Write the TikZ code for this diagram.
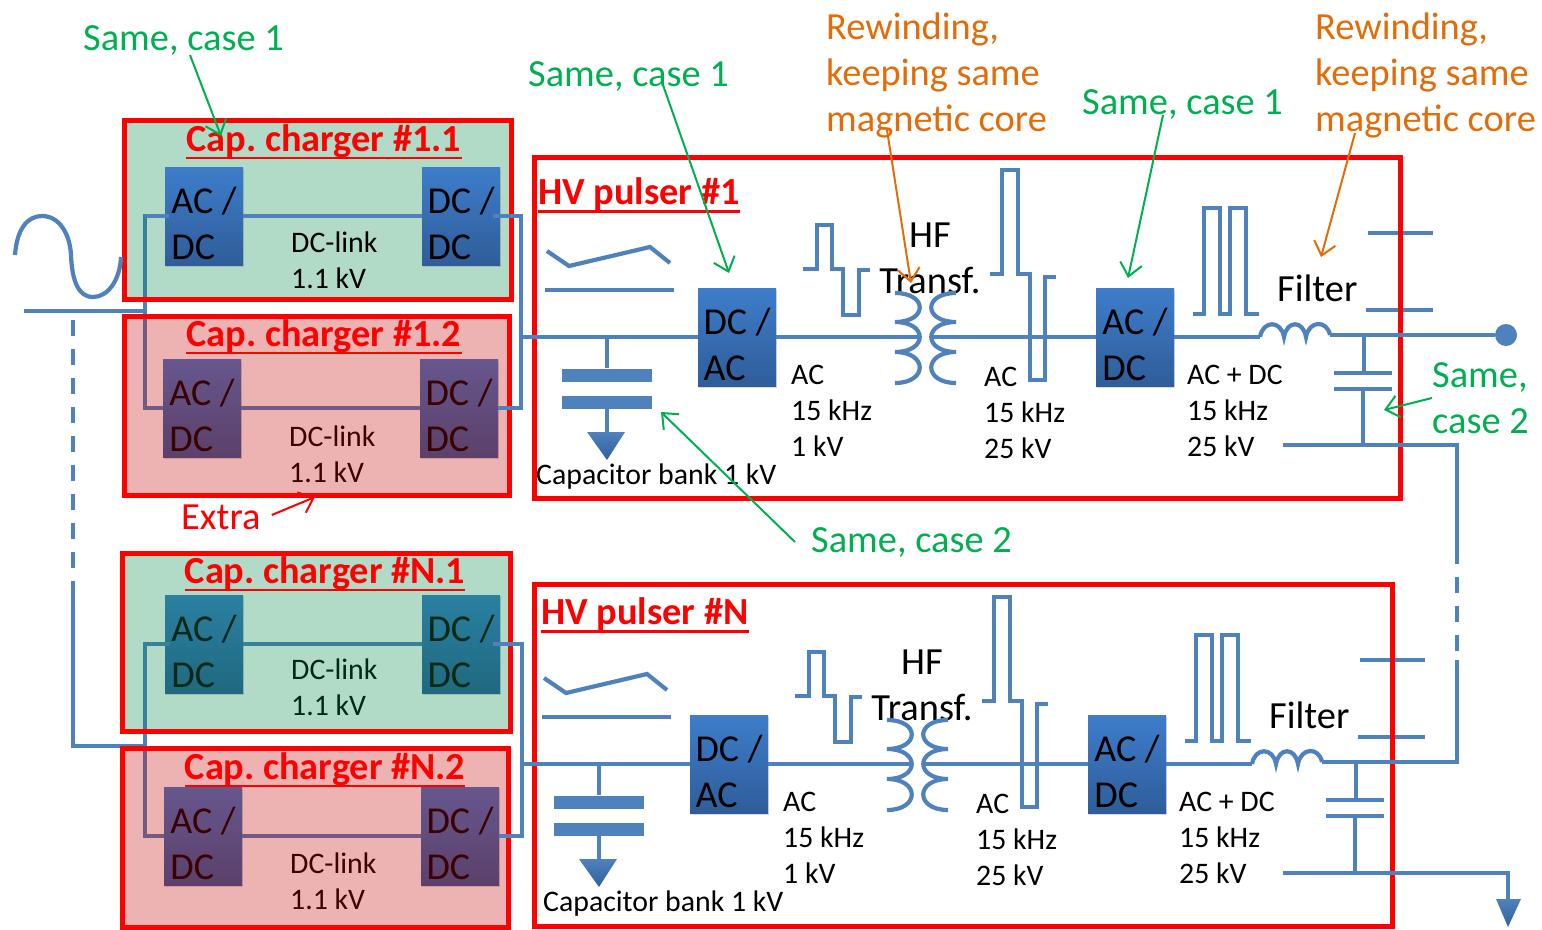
\documentclass[tikz,border=0pt]{standalone}
\usepackage{fontspec}
\setmainfont{Carlito}
\usetikzlibrary{arrows.meta,backgrounds,shadows}
\definecolor{wireblue}{HTML}{4F81BD}
\definecolor{blocktop}{HTML}{3E7DCB}
\definecolor{blockbot}{HTML}{2F5D99}
\definecolor{ovgreen}{rgb}{0,.53,.27}
\definecolor{ovred}{rgb}{.77,0,0}
\definecolor{notegreen}{HTML}{00B050}
\definecolor{noteorange}{HTML}{E36C09}
\newcommand{\blocktext}[2]{\rule{0pt}{42pt}#1\\#2}
\frenchspacing
\tikzset{
  wire/.style={draw=wireblue,line width=4.2pt},
  dashwire/.style={wire,dash pattern=on 16pt off 13pt},
  block/.style={anchor=north west,top color=blocktop,bottom color=blockbot,draw=none,
    minimum height=98pt,minimum width=78pt,inner sep=0pt,outer sep=0pt,align=left,
    drop shadow={opacity=.3,shadow xshift=1pt,shadow yshift=-2pt},
    font=\fontsize{38}{46}\selectfont},
  small/.style={inner sep=0pt,align=left,font=\fontsize{29.8}{36}\selectfont},
  big/.style={inner sep=0pt,align=left,font=\fontsize{38.4}{46}\selectfont},
  title/.style={inner sep=0pt,text=red,font=\fontsize{38.3}{46}\selectfont\bfseries},
  plate/.style={fill=wireblue,inner sep=0pt,minimum width=90pt,minimum height=13pt},
  gnd/.style={top color=wireblue,bottom color=blockbot!90!blocktop,draw=none},
  redbox/.style={anchor=north west,draw=red,line width=5pt,inner sep=0pt,outer sep=0pt},
  greenbox/.style={redbox,fill=ovgreen,fill opacity=.3},
  pinkbox/.style={redbox,fill=ovred,fill opacity=.3},
  note/.style={->,>={Straight Barb[length=13pt,width=22pt]},line width=2pt},
}
% one charger: blocks, link and voltage
\newcommand{\chargerparts}[3]{
  \begin{scope}[shift={#2},name prefix=#1-]
    \node (ac) [block] at (0,0) {\blocktext{AC /}{DC}};
    \node (dc) [block] at (257,0) {\blocktext{DC /}{DC}};
    \draw[wire] (ac.east) -- (dc.west);
    \node (link) [small,anchor=west] at (126,#3) {DC-link\\1.1 kV};
  \end{scope}
}
% one pulser, drawn at the place of #1 and moved by #2
\newcommand{\pulserparts}[4]{
  \begin{scope}[shift={#2},name prefix=#1-]
    % switch
    \draw[wire] (#4+547,251) -- (#4+569,266) -- (#4+650,247) -- (#4+670,263);
    \draw[wire] (#4+545,290) -- (#4+674,290);
    % capacitor bank
    \node (dcac) [block] at (698,288) {\blocktext{DC /}{AC}};
    \coordinate (bankin) at (607,337);
    \node (plateA) [plate] at (607,375) {};
    \node (plateB) [plate] at (607,402) {};
    \draw[wire] (bankin) -- (plateA);
    \draw[wire] (plateB) -- (607,433);
    \shade[gnd] (587,432) -- (625,432) -- (607,460) -- cycle;
    \node (bank) [small,anchor=west] at (#3,477) {Capacitor bank 1 kV};
    % first pulse
    \draw[wire] (803,269) -- (817,269) -- (817,225) -- (832,225) -- (832,269) -- (843,269)
      -- (843,315) -- (859,315) -- (859,270) -- (870,270);
    \node (labA) [small,anchor=west] at (791,411) {AC\\15 kHz\\1 kV};
    % transformer
    \node (hf) [big,align=center] at (930,258) {HF\\Transf.};
    \coordinate (priin) at (920,337);
    \coordinate (secin) at (931,337);
    \draw[wire] (895,293) .. controls (928,293) and (928,322) .. (895,322)
      .. controls (928,322) and (928,352) .. (895,352)
      .. controls (928,352) and (928,383) .. (895,383);
    \draw[wire] (956,293) .. controls (923,293) and (923,322) .. (956,322)
      .. controls (923,322) and (923,352) .. (956,352)
      .. controls (923,352) and (923,383) .. (956,383);
    \draw[wire] (dcac.east) -- (priin);
    % second pulse
    \draw[wire] (990,274) -- (1002,274) -- (1002,170) -- (1018,170) -- (1018,274) -- (1030,274)
      -- (1030,380) -- (1045,380) -- (1045,277) -- (1056,277);
    \node (labB) [small,anchor=west] at (984,413) {AC\\15 kHz\\25 kV};
    \node (acdc) [block] at (1096,288) {\blocktext{AC /}{DC}};
    \draw[wire] (secin) -- (acdc.west);
    % third pulse
    \draw[wire] (1193,314) -- (1204,314) -- (1204,208) -- (1220,208) -- (1220,314) -- (1230,314)
      -- (1230,208) -- (1246,208) -- (1246,314) -- (1259,314);
    \node (labC) [small,anchor=west] at (1187,411) {AC + DC\\15 kHz\\25 kV};
    % filter
    \node (filter) [big,anchor=west] at (1277,288) {Filter};
    \coordinate (lin) at (1260,337);
    \coordinate (out) at (1330,335);
    \draw[wire] (acdc.east) -- (lin);
    \draw[wire] (lin) .. controls (1263,320) and (1281,320) .. (1284,337)
      .. controls (1287,320) and (1303,320) .. (1306,337)
      .. controls (1309,320) and (1327,320) .. (out);
    \draw[wire] (1368,233) -- (1433,233);
    \draw[wire] (1366,310) -- (1433,310);
    \draw[wire] (1364,337) -- (1364,373);
    \draw[wire] (1334,373) -- (1392,373);
    \draw[wire] (1334,389) -- (1392,389);
    \draw[wire] (1363,389) -- (1363,445);
  \end{scope}
}
\begin{document}
\begin{tikzpicture}[x=1pt,y=-1pt]
  \useasboundingbox (0,0) rectangle (1542,929);

  \chargerparts{c11}{(165,167)}{93}
  \chargerparts{c12}{(163,359)}{95}
  \chargerparts{cn1}{(165,595)}{92}
  \chargerparts{cn2}{(164,787)}{94}
  \pulserparts{p1}{(0,0)}{536}{0}
  \pulserparts{pn}{(-8,427)}{551}{5}

  % mains
  \draw[wire] (15,255) .. controls (17,228) and (28,216) .. (42,216)
    .. controls (60,216) and (70,235) .. (71,255)
    .. controls (72,280) and (78,297) .. (93,297)
    .. controls (108,297) and (120,280) .. (121,257);
  \coordinate (busA) at (145,311);
  \coordinate (busB) at (145,746);
  \coordinate (busstart) at (24,311);
  \coordinate (dashA) at (73,320);
  \coordinate (dashB) at (73,586);
  \draw[wire] (busstart) -- (busA);
  \draw[dashwire] (dashA) -- (dashB);
  \draw[wire] (dashB) |- (busB);

  \begin{pgfonlayer}{background}
    \draw[wire] (c12-ac.west) -| (busA) |- (c11-ac.west);
    \node (c11box) [greenbox,minimum width=387pt,minimum height=179pt] at (124,120) {};
  \end{pgfonlayer}
  \draw[wire] (busA |- c11-ac.west) -- ([xshift=4pt]c11-ac.west);
  \draw[wire] (cn2-ac.west) -| (busB) |- ([xshift=5pt]cn1-ac.west);

  % overlays
  \node (c12box) [pinkbox,minimum width=385pt,minimum height=179pt] at (124,316) {};
  \node (cn1box) [greenbox,minimum width=388pt,minimum height=178pt] at (122,553) {};
  \node (cn2box) [pinkbox,minimum width=386pt,minimum height=179pt] at (122,748) {};
  \node (p1box) [redbox,minimum width=866pt,minimum height=341pt] at (534,157) {};
  \node (pnbox) [redbox,minimum width=858pt,minimum height=342pt] at (534,584) {};

  \node (c11t) [title] at (324,141) {Cap. charger \#1.1};
  \node (c12t) [title] at (324,336) {Cap. charger \#1.2};
  \node (cn1t) [title] at (325,573) {Cap. charger \#N.1};
  \node (cn2t) [title] at (325,769) {Cap. charger \#N.2};
  \node (p1t) [title,anchor=west] at (538,194) {HV pulser \#1};
  \node (pnt) [title,anchor=west] at (541,614) {HV pulser \#N};
  \foreach \t in {c11t,c12t,cn1t,cn2t,p1t,pnt}
    \draw[red,line width=2.2pt] ([yshift=-7pt]\t.base west) -- ([yshift=-7pt]\t.base east);

  % links to the pulsers
  \coordinate (rightA) at (521,337);
  \coordinate (rightB) at (522,764);
  \draw[wire] ([xshift=-7pt]c11-dc.east) -| (rightA) |- (c12-dc.east);
  \draw[wire] (rightA) -- (p1-dcac.west);
  \draw[wire] ([xshift=-7pt]cn1-dc.east) -| (rightB) |- (cn2-dc.east);
  \draw[wire] (rightB) -- (pn-dcac.west);

  % output and return
  \node (enddot) [circle,fill=wireblue,inner sep=0pt,minimum size=22pt] at (1506,335) {};
  \draw[wire] (p1-out) -- (enddot);
  \coordinate (retA) at (1283,445);
  \coordinate (dashC) at (1457,548);
  \coordinate (dashD) at (1457,660);
  \draw[wire] (retA) -| (dashC);
  \draw[dashwire] (dashC) -- (dashD);
  \draw[wire] (pn-out) -| (dashD);
  \coordinate (retB) at (1283,873);
  \coordinate (gndin) at (1508,900);
  \draw[wire] (retB) -| (gndin);
  \shade[gnd] (1496,899) -- (1521,899) -- (1508,927) -- cycle;

  % remarks
  \node (sameA) [big,text=notegreen,anchor=west] at (83,40) {Same, case 1};
  \node (sameB) [big,text=notegreen,anchor=west] at (528,76) {Same, case 1};
  \node (sameC) [big,text=notegreen,anchor=west] at (1082,104) {Same, case 1};
  \node (sameD) [big,text=notegreen,anchor=west] at (1432,398) {Same,\\case 2};
  \node (sameE) [big,text=notegreen,anchor=west] at (811,542) {Same, case 2};
  \node (rewA) [big,text=noteorange,anchor=west] at (826,75) {Rewinding,\\keeping same\\magnetic core};
  \node (rewB) [big,text=noteorange,anchor=west] at (1315,75) {Rewinding,\\keeping same\\magnetic core};
  \node (extra) [big,text=red,anchor=west] at (181,517) {Extra};

  \coordinate (tipA) at (221,136);
  \coordinate (tipB) at (729,273);
  \coordinate (tipC) at (1128,278);
  \coordinate (tipD) at (1384,410);
  \coordinate (tipE) at (661,412);
  \coordinate (tipF) at (911,283);
  \coordinate (tipG) at (1321,257);
  \coordinate (tipH) at (315,497);
  \draw[note,notegreen] (190,55) -- (tipA);
  \draw[note,notegreen] (663,85) -- (tipB);
  \draw[note,notegreen] (1163,115) -- (tipC);
  \draw[note,notegreen] (sameD.west) -- (tipD);
  \draw[note,notegreen] ([xshift=-16pt]sameE.west) -- (tipE);
  \draw[note,noteorange] (887,130) -- (tipF);
  \draw[note,noteorange] (1355,133) -- (tipG);
  \draw[note,red] (extra.east) ++(11pt,2pt) -- (tipH);
\end{tikzpicture}
\end{document}
